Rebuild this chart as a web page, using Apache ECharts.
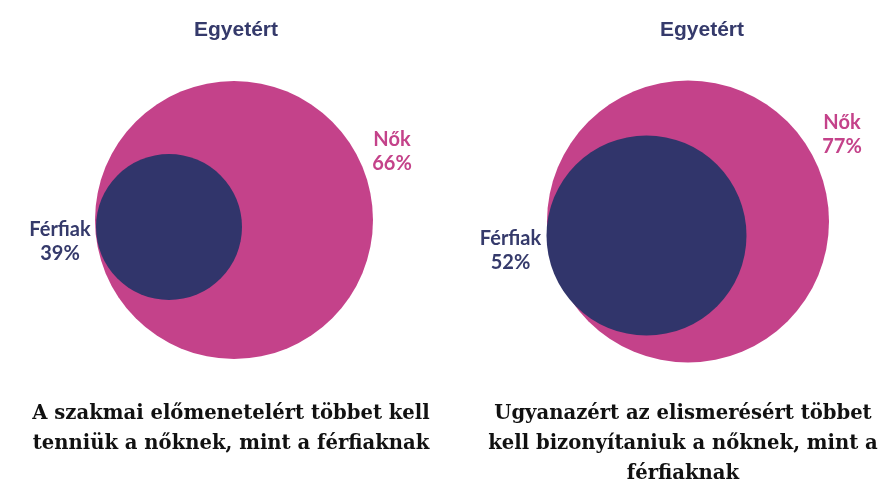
<!DOCTYPE html>
<html><head><meta charset="utf-8">
<script src="https://cdn.jsdelivr.net/npm/echarts@6/dist/echarts.min.js"></script>
<style>html,body{margin:0;padding:0;background:#fff}#c{width:889px;height:498px}</style>
</head><body><div id="c"></div>
<script>
// ---- data ----
const panelTitles = ['Egyetért', 'Egyetért'];
const groups = ['Férfiak', 'Nők'];
const menValues = [39, 52];     // % agree, men
const womenValues = [66, 77];   // % agree, women
const captions = [
  'A szakmai előmenetelért többet kell\ntenniük a nőknek, mint a férfiaknak',
  'Ugyanazért az elismerésért többet\nkell bizonyítaniuk a nőknek, mint a\nférfiaknak'
];

// ---- layout (illustrative Venn placement, axis units) ----
const womenCircles = [{c: [234, 220], d: 278, lab: [158, -68]}, {c: [688, 221.5], d: 282, lab: [154, -87]}];
const menCircles   = [{c: [169, 227], d: 146, lab: [-109, 15]}, {c: [646.5, 235.5], d: 200, lab: [-136, 15]}];
const panelCenters = [236, 702];
const captionCenters = [231, 683];

const PINK = '#C4428A', NAVY = '#31356B', TITLE = '#353A6B';
const labelFont = {fontFamily: 'Lato, "Noto Sans", sans-serif', fontWeight: 'bold', fontSize: 20, lineHeight: 24, align: 'center', verticalAlign: 'middle'};

function pts(circles, values, name) {
  return circles.map((o, i) => ({
    value: [o.c[0], o.c[1]],
    symbolSize: o.d,
    name: name,
    pct: values[i],
    label: {offset: o.lab}
  }));
}

const chart = echarts.init(document.getElementById('c'), null, {renderer: 'canvas'});
chart.setOption({
  animation: false,
  title: [
    ...panelTitles.map((t, i) => ({text: t, left: panelCenters[i], top: 20, textAlign: 'center', padding: 0,
      textStyle: {fontFamily: '"Liberation Sans", Arial, sans-serif', fontWeight: 'bold', fontSize: 21, color: TITLE}})),
    ...captions.map((t, i) => ({text: t, left: captionCenters[i], top: 399, textAlign: 'center', padding: 0,
      textStyle: {fontFamily: '"DejaVu Serif", serif', fontWeight: 'bold', fontSize: 19.6, lineHeight: 30, color: '#111'}}))
  ],
  grid: {left: 0, right: 0, top: 0, bottom: 0},
  xAxis: {type: 'value', min: 0, max: 889, show: false},
  yAxis: {type: 'value', min: 0, max: 498, inverse: true, show: false},
  series: [
    {type: 'scatter', name: groups[1], z: 2, symbol: 'circle', silent: true,
      itemStyle: {color: PINK, opacity: 1},
      label: {show: true, position: 'inside', color: PINK, ...labelFont,
        formatter: p => p.data.name + '\n' + p.data.pct + '%'},
      data: pts(womenCircles, womenValues, groups[1])},
    {type: 'scatter', name: groups[0], z: 3, symbol: 'circle', silent: true,
      itemStyle: {color: NAVY, opacity: 1},
      label: {show: true, position: 'inside', color: TITLE, ...labelFont,
        formatter: p => p.data.name + '\n' + p.data.pct + '%'},
      data: pts(menCircles, menValues, groups[0])}
  ]
});
</script></body></html>
